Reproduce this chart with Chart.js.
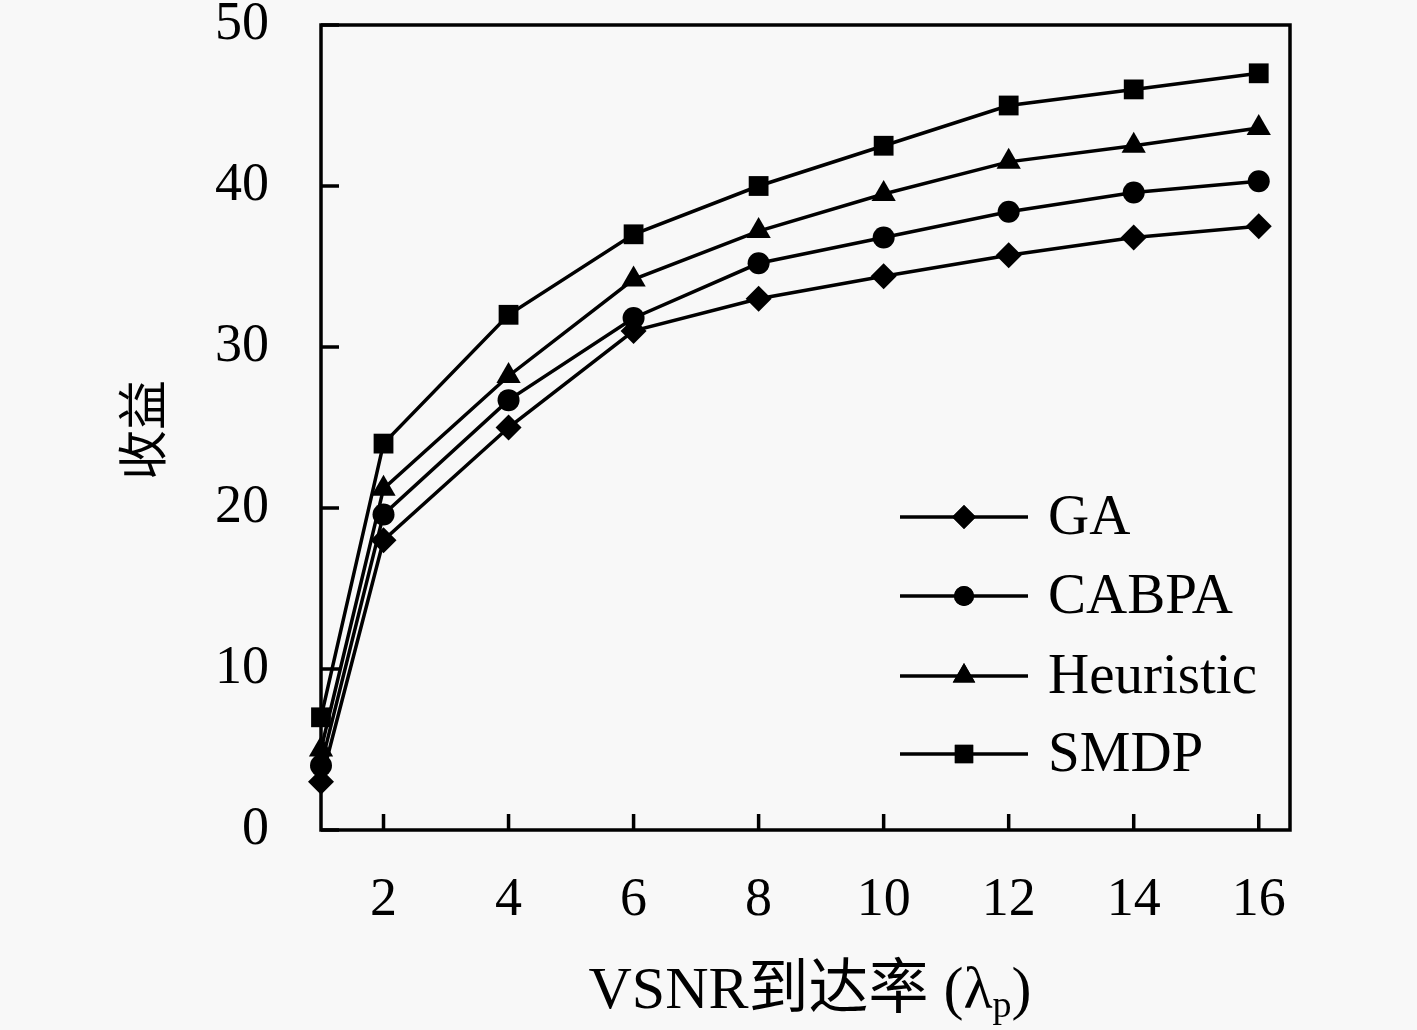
<!DOCTYPE html>
<html>
<head>
<meta charset="utf-8">
<script src="https://cdn.jsdelivr.net/npm/chart.js@4/dist/chart.umd.min.js"></script>
<style>
  html, body { margin: 0; padding: 0; background: #f8f8f8; }
  #wrap { width: 1417px; height: 1030px; }
</style>
</head>
<body>
<div id="wrap"><canvas id="chart"></canvas></div>
<script>
// 데이터
const xValues = [1, 2, 4, 6, 8, 10, 12, 14, 16];
const xTicks = [2, 4, 6, 8, 10, 12, 14, 16];
const yTicks = [0, 10, 20, 30, 40, 50];
const seriesNames = ['GA', 'CABPA', 'Heuristic', 'SMDP'];
const gaValues = [3, 18, 25, 31, 33, 34.4, 35.7, 36.8, 37.5];
const cabpaValues = [4, 19.6, 26.7, 31.8, 35.2, 36.8, 38.4, 39.6, 40.3];
const heuristicValues = [5, 21.2, 28.2, 34.2, 37.2, 39.5, 41.5, 42.5, 43.6];
const smdpValues = [7, 24, 32, 37, 40, 42.5, 45, 46, 47];
const xTitle = 'VSNR到达率 (λ';
const xTitleSub = 'p';
const yTitle = '收益';

const serif = '"Liberation Serif", "Noto Sans CJK SC", serif';
const markerStyles = ['rectRot', 'circle', 'triangle', 'rect'];
const markerRadius = [13, 11, 14, 14];

const toPoints = vals => vals.map((v, i) => ({ x: xValues[i], y: v }));

const datasets = [gaValues, cabpaValues, heuristicValues, smdpValues].map((vals, i) => ({
  label: seriesNames[i],
  data: toPoints(vals),
  borderColor: '#000',
  backgroundColor: '#000',
  borderWidth: 3.5,
  pointStyle: markerStyles[i],
  pointRadius: markerRadius[i],
  pointBorderWidth: 0,
  tension: 0,
  clip: false
}));

// 축 박스 + 안쪽 눈금 + 축 제목 + 범례
const framePlugin = {
  id: 'frame',
  beforeDatasetsDraw(chart) {
    const { ctx, chartArea: a, scales } = chart;
    ctx.save();
    ctx.strokeStyle = '#000';
    ctx.lineWidth = 3.5;
    ctx.strokeRect(a.left, a.top, a.right - a.left, a.bottom - a.top);

    ctx.beginPath();
    xTicks.forEach(v => {
      const px = scales.x.getPixelForValue(v);
      ctx.moveTo(px, a.bottom);
      ctx.lineTo(px, a.bottom - 16);
    });
    yTicks.forEach(v => {
      const py = scales.y.getPixelForValue(v);
      ctx.moveTo(a.left, py);
      ctx.lineTo(a.left + 18, py);
    });
    ctx.stroke();
    ctx.restore();
  },
  afterDraw(chart) {
    const { ctx, chartArea: a } = chart;
    ctx.save();
    ctx.strokeStyle = '#000';
    ctx.fillStyle = '#000';

    // y축 제목
    ctx.save();
    ctx.translate(148, 430);
    ctx.rotate(-Math.PI / 2);
    ctx.font = '50px ' + serif;
    ctx.textAlign = 'center';
    ctx.textBaseline = 'middle';
    ctx.fillText(yTitle, 0, 0);
    ctx.restore();

    // x축 제목 (아래첨자 p)
    ctx.font = '60px ' + serif;
    const mainW = ctx.measureText(xTitle).width;
    ctx.font = '38px ' + serif;
    const subW = ctx.measureText(xTitleSub).width;
    ctx.font = '60px ' + serif;
    const closeW = ctx.measureText(')').width;
    const total = mainW + subW + closeW;
    let tx = 810 - total / 2;
    const baseY = 1008;
    ctx.textAlign = 'left';
    ctx.textBaseline = 'alphabetic';
    ctx.fillText(xTitle, tx, baseY);
    tx += mainW;
    ctx.font = '38px ' + serif;
    ctx.fillText(xTitleSub, tx, baseY + 9);
    tx += subW;
    ctx.font = '60px ' + serif;
    ctx.fillText(')', tx, baseY);

    // 범례
    const lx0 = a.right - 390, lx1 = a.right - 262, mx = a.right - 326, tx0 = a.right - 242;
    const rowY = [517, 596, 676, 754];
    chart.data.datasets.forEach((ds, i) => {
      const y = rowY[i];
      ctx.lineWidth = 3.5;
      ctx.beginPath();
      ctx.moveTo(lx0, y);
      ctx.lineTo(lx1, y);
      ctx.stroke();
      Chart.helpers.drawPoint(ctx, {
        pointStyle: ds.pointStyle,
        radius: ds.pointRadius - 1,
        rotation: 0,
        borderWidth: 0
      }, mx, y);
      ctx.fill();
      ctx.font = '57px ' + serif;
      ctx.textBaseline = 'middle';
      ctx.fillText(ds.label, tx0, y + 2);
    });
    ctx.restore();
  }
};

new Chart(document.getElementById('chart'), {
  type: 'line',
  data: { datasets },
  options: {
    responsive: true,
    maintainAspectRatio: false,
    animation: false,
    layout: { padding: { top: 25, right: 127, left: 0, bottom: 0 } },
    plugins: { legend: { display: false }, tooltip: { enabled: false } },
    scales: {
      x: {
        type: 'linear',
        min: 1,
        max: 16.5,
        grid: { display: false },
        border: { display: false },
        afterBuildTicks: s => { s.ticks = xTicks.map(v => ({ value: v })); },
        afterFit: s => { s.height = 200; s.paddingLeft = 0; s.paddingRight = 0; },
        ticks: {
          color: '#000',
          padding: 30,
          font: { family: serif, size: 54 }
        }
      },
      y: {
        min: 0,
        max: 50,
        grid: { display: false },
        border: { display: false },
        afterBuildTicks: s => { s.ticks = yTicks.map(v => ({ value: v })); },
        afterFit: s => { s.width = 321; s.paddingTop = 0; s.paddingBottom = 0; },
        ticks: {
          color: '#000',
          padding: 44,
          font: { family: serif, size: 54 }
        }
      }
    }
  },
  plugins: [framePlugin]
});
</script>
</body>
</html>
